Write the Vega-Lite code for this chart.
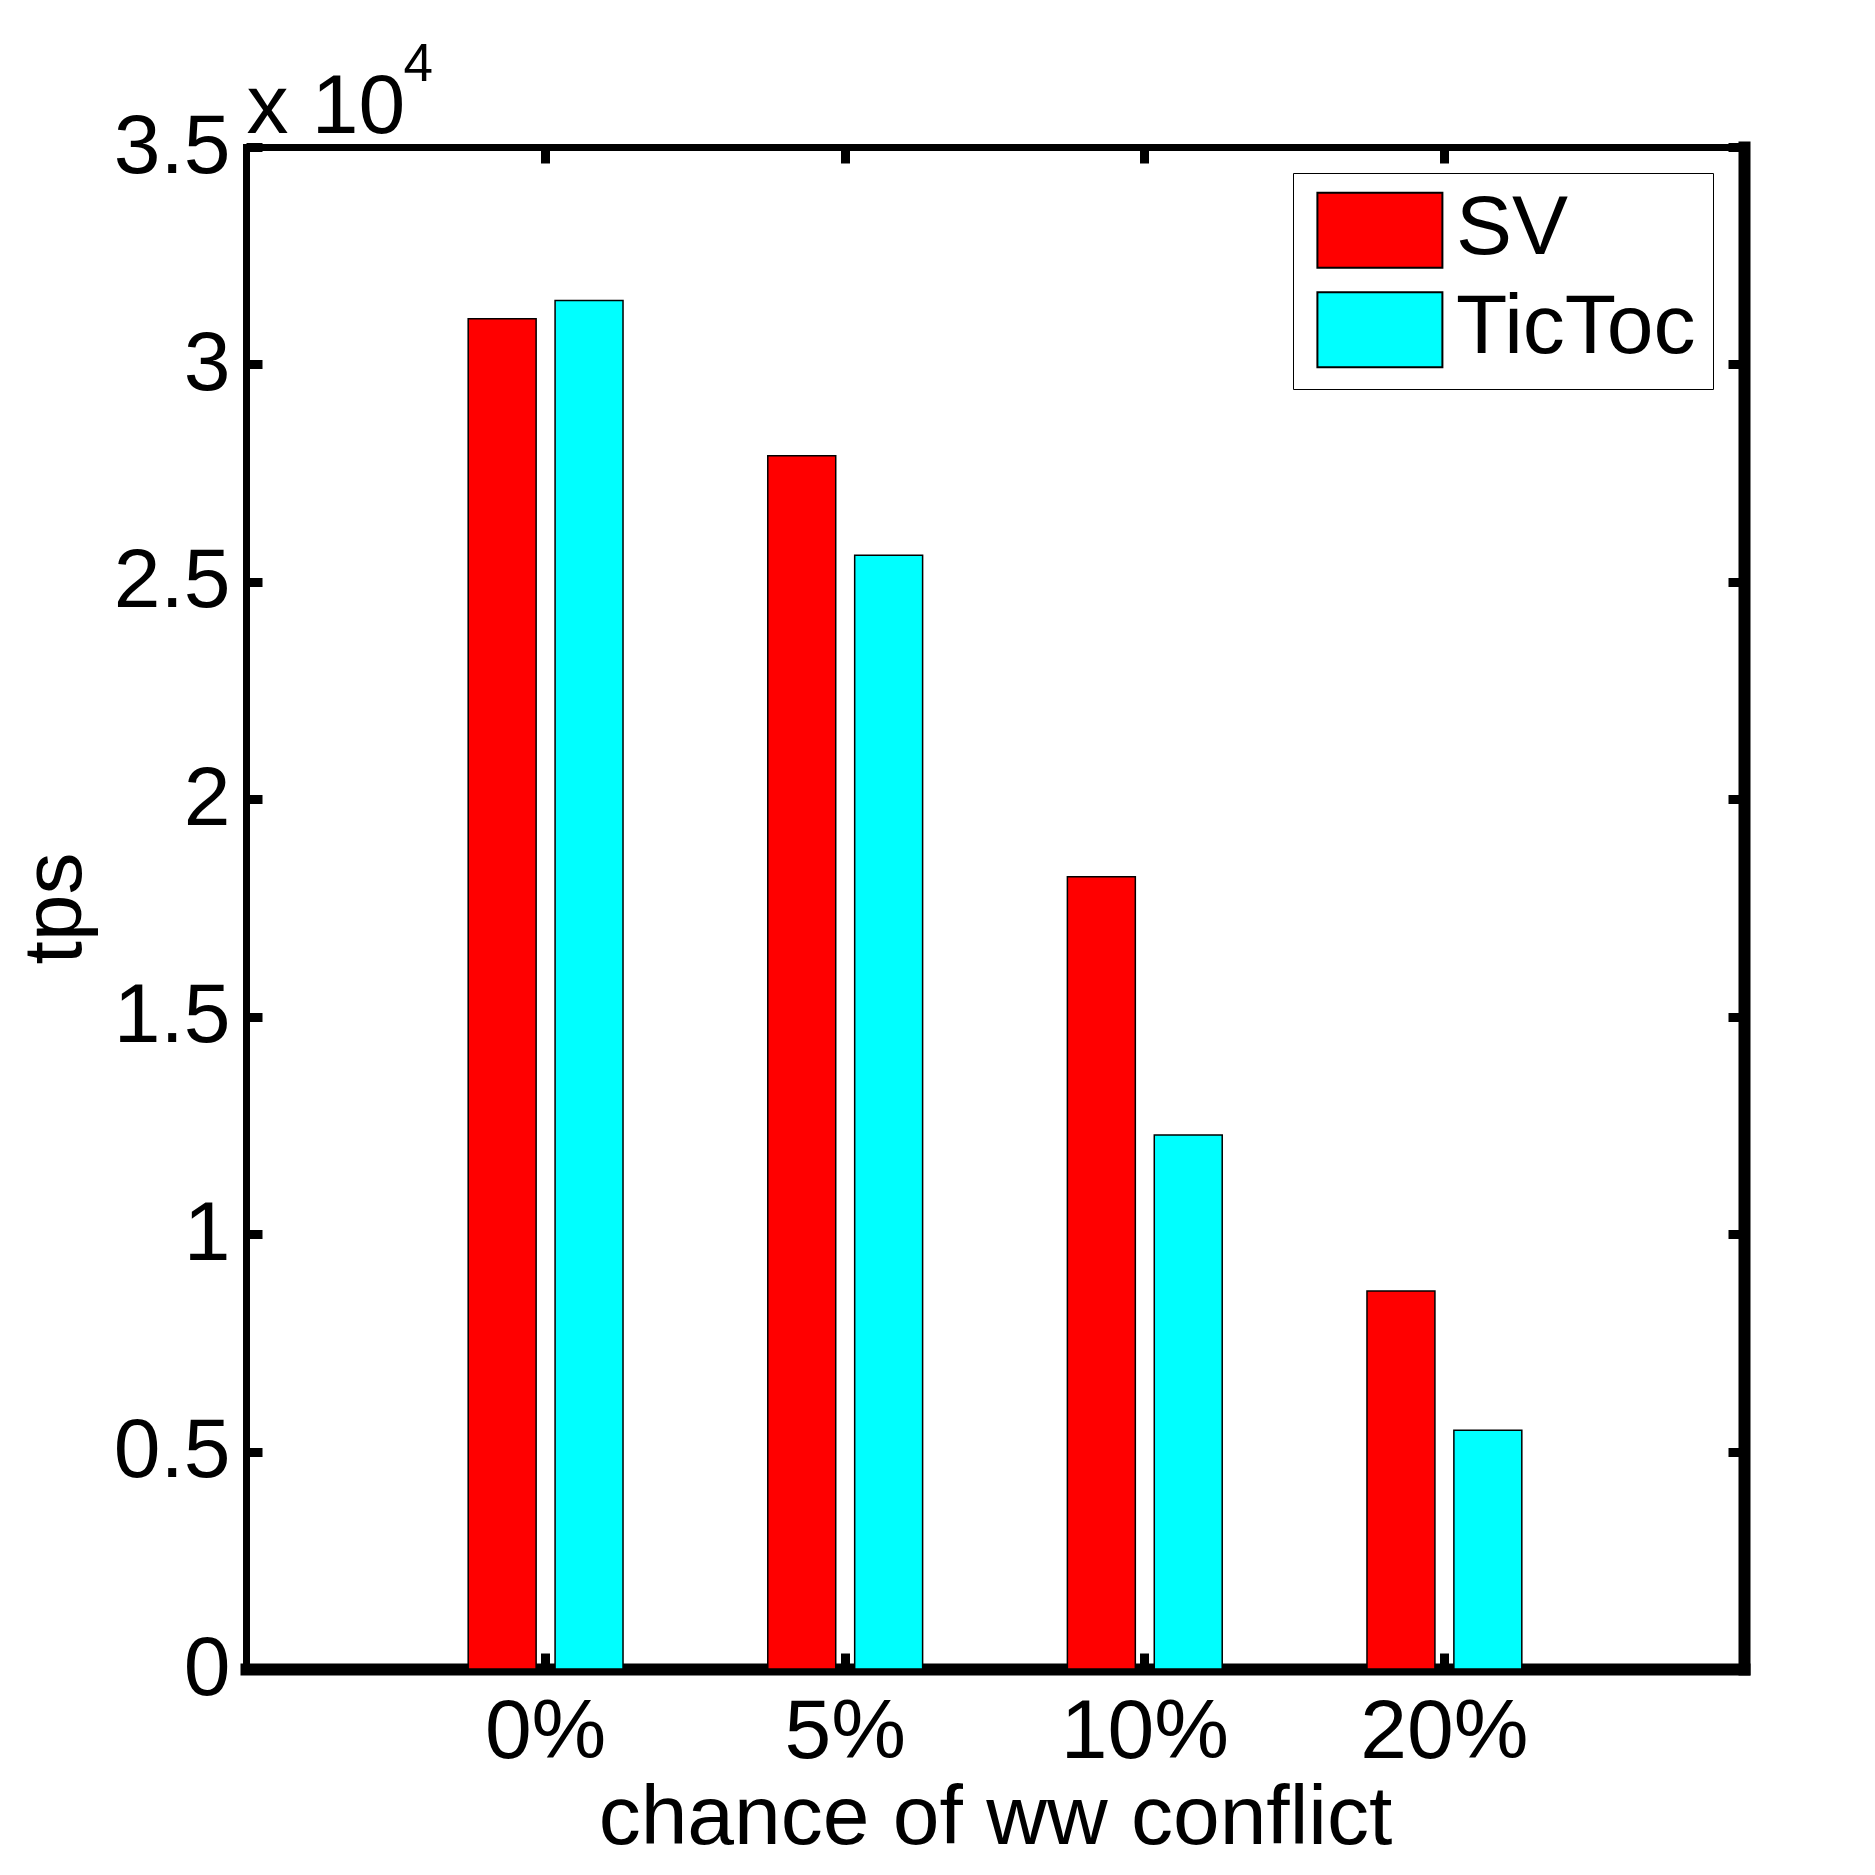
{
  "$schema": "https://vega.github.io/schema/vega-lite/v6.json",
  "autosize": {"type": "none"},
  "padding": {"left": 246, "top": 147, "right": 131, "bottom": 206},
  "width": 1498,
  "height": 1522,
  "background": "white",
  "config": {
    "font": "Liberation Sans",
    "view": {"stroke": null},
    "axis": {
      "grid": false,
      "domainColor": "black",
      "domainCap": "square",
      "tickColor": "black",
      "tickSize": -16,
      "tickWidth": 9,
      "labelColor": "black",
      "labelFontSize": 84,
      "labelFont": "Liberation Sans",
      "titleColor": "black",
      "titleFont": "Liberation Sans",
      "titleFontWeight": "normal",
      "titleFontSize": 84,
      "labelAngle": 0
    }
  },
  "data": {
    "values": [
      {"conflict": "0%", "system": "SV", "tps": 31050},
      {"conflict": "0%", "system": "TicToc", "tps": 31470},
      {"conflict": "5%", "system": "SV", "tps": 27900},
      {"conflict": "5%", "system": "TicToc", "tps": 25610},
      {"conflict": "10%", "system": "SV", "tps": 18220},
      {"conflict": "10%", "system": "TicToc", "tps": 12280},
      {"conflict": "20%", "system": "SV", "tps": 8690},
      {"conflict": "20%", "system": "TicToc", "tps": 5490}
    ]
  },
  "layer": [
    {
      "mark": {"type": "bar", "stroke": "black", "strokeWidth": 1.5},
      "encoding": {
        "x": {
          "field": "conflict", "type": "nominal",
          "sort": ["0%", "5%", "10%", "20%"],
          "scale": {"paddingInner": 0, "paddingOuter": 0.5},
          "axis": {
            "orient": "bottom", "domainWidth": 12, "bandPosition": 0.5,
            "labelPadding": 104, "labelBaseline": "alphabetic",
            "title": "chance of ww conflict",
            "titleX": 749, "titleY": 174, "titleBaseline": "alphabetic", "titleAlign": "center"
          }
        },
        "xOffset": {
          "field": "system", "type": "nominal",
          "scale": {"paddingInner": 0.218, "paddingOuter": 0.833}
        },
        "y": {
          "field": "tps", "type": "quantitative",
          "scale": {"domain": [0, 35000], "nice": false},
          "axis": {
            "orient": "left", "domainWidth": 7,
            "values": [0, 5000, 10000, 15000, 20000, 25000, 30000, 35000],
            "labelExpr": "'' + datum.value / 10000",
            "labelPadding": 32, "labelAlign": "right",
            "title": "tps",
            "titleX": -166, "titleY": 761, "titleAngle": 270,
            "titleBaseline": "alphabetic", "titleAlign": "center"
          }
        },
        "color": {
          "field": "system", "type": "nominal",
          "scale": {"domain": ["SV", "TicToc"], "range": ["#ff0000", "#00ffff"]},
          "legend": {
            "orient": "none", "legendX": 1047, "legendY": 26,
            "title": null,
            "labelFontSize": 84, "labelFont": "Liberation Sans", "labelColor": "black",
            "labelOffset": 12.6, "labelLimit": 1000, "labelBaseline": "alphabetic",
            "symbolType": "M-1,-0.974H1V0.226H-1Z", "symbolSize": 15625,
            "symbolOffset": 6.4,
            "symbolStrokeColor": "black", "symbolStrokeWidth": 2, "symbolOpacity": 1,
            "strokeColor": "black", "fillColor": "white", "padding": 17,
            "rowPadding": 13.5
          }
        }
      }
    },
    {
      "mark": {"type": "bar", "opacity": 0},
      "encoding": {
        "x": {
          "field": "conflict", "type": "nominal",
          "sort": ["0%", "5%", "10%", "20%"],
          "axis": {
            "orient": "top", "domainWidth": 7, "bandPosition": 0.5, "labels": false,
            "title": "x 10",
            "titleX": 0, "titleY": -15, "titleBaseline": "alphabetic", "titleAlign": "left"
          }
        },
        "xOffset": {"field": "system", "type": "nominal"},
        "y": {
          "field": "tps", "type": "quantitative",
          "axis": {
            "orient": "right", "domainWidth": 12, "labels": false,
            "values": [0, 5000, 10000, 15000, 20000, 25000, 30000, 35000],
            "title": "4", "titleFontSize": 53,
            "titleX": -1341, "titleY": -67, "titleAngle": 0,
            "titleBaseline": "alphabetic", "titleAlign": "left"
          }
        }
      }
    }
  ],
  "resolve": {"axis": {"x": "independent", "y": "independent"}}
}
